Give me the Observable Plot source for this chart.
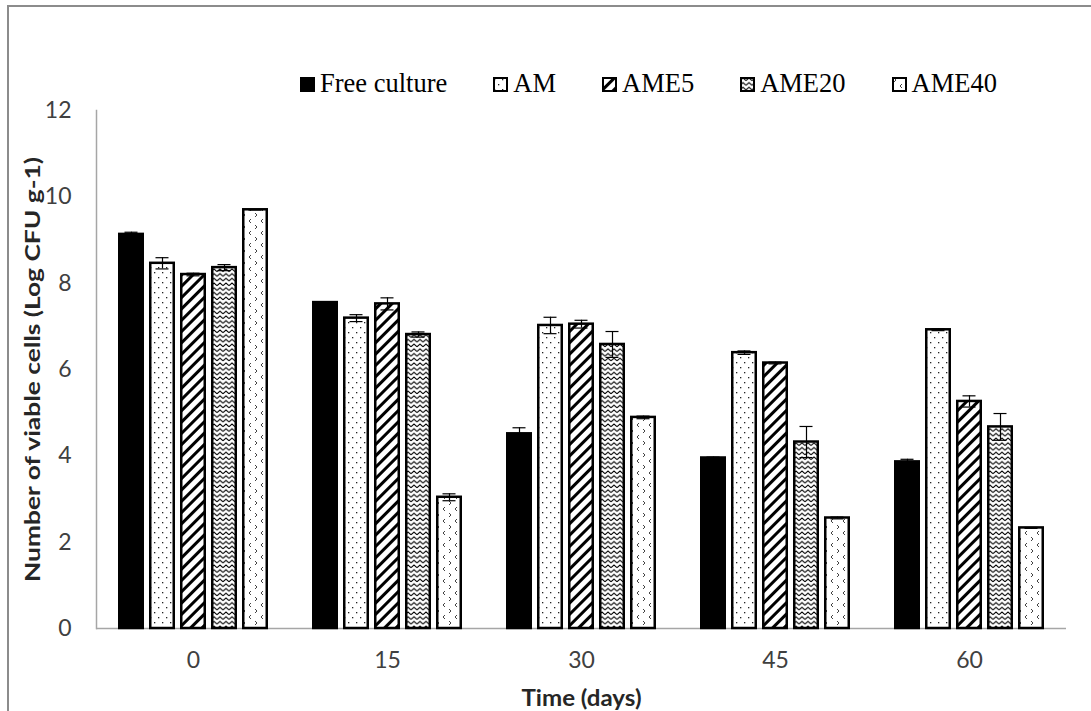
<!DOCTYPE html>
<html><head><meta charset="utf-8">
<script src="https://cdn.jsdelivr.net/npm/d3@7"></script>
<script src="https://cdn.jsdelivr.net/npm/@observablehq/plot@0.6"></script>
<style>
body{margin:0;background:#fff;width:1091px;height:711px;overflow:hidden;position:relative;font-family:Lato,sans-serif}
#frame{position:absolute;left:7px;top:5px;right:-10px;bottom:-10px;border-left:2px solid #8c8c8c;border-top:2px solid #8c8c8c;pointer-events:none}
#legend{position:absolute;left:300px;top:69px;display:flex;gap:46px;font-family:"Liberation Serif","Times New Roman",serif;font-size:26.5px;line-height:28px;color:#000;white-space:nowrap}
#legend .item svg{vertical-align:baseline;margin-right:5px}
#chart{position:absolute;left:0;top:80px}
#chart g[aria-label="y-axis label"] text{font-weight:bold;font-size:21px;fill:#262626}
#chart g[aria-label="fx-axis label"] text{font-weight:bold;font-size:22px;fill:#262626}
</style></head>
<body>
<svg width="0" height="0" style="position:absolute">
<defs>
<pattern id="p-am" patternUnits="userSpaceOnUse" width="8" height="10">
<rect width="8" height="10" fill="#fff"/>
<rect x="1" y="2" width="1.3" height="1.3" fill="#222"/>
<rect x="5" y="7" width="1.3" height="1.3" fill="#222"/>
</pattern>
<pattern id="p-ame5" patternUnits="userSpaceOnUse" width="8" height="8" patternTransform="rotate(45)">
<rect width="8" height="8" fill="#fff"/>
<rect x="0" y="0" width="3" height="8" fill="#000"/>
</pattern>
<pattern id="p-ame20" patternUnits="userSpaceOnUse" width="6" height="4.7">
<rect width="6" height="4.7" fill="#fff"/>
<polyline points="0,3.5 3,1 6,3.5" fill="none" stroke="#000" stroke-width="1"/>
</pattern>
<pattern id="p-ame40" patternUnits="userSpaceOnUse" width="12" height="12">
<rect width="12" height="12" fill="#fff"/>
<polyline points="2,1 4,3 2,5" fill="none" stroke="#444" stroke-width="1"/>
<polyline points="10,7 8,9 10,11" fill="none" stroke="#444" stroke-width="1"/>
</pattern>
</defs>
</svg>
<div id="frame"></div>
<div id="legend"></div>
<div id="chart"></div>
<script>
const times = ["0", "15", "30", "45", "60"];
const series = ["Free culture", "AM", "AME5", "AME20", "AME40"];
const freeCulture = [9.13, 7.55, 4.51, 3.95, 3.86];
const freeCultureErr = [0.05, 0.02, 0.14, 0.02, 0.06];
const am = [8.46, 7.19, 7.02, 6.39, 6.92];
const amErr = [0.13, 0.08, 0.19, 0.04, 0.02];
const ame5 = [8.2, 7.52, 7.05, 6.15, 5.26];
const ame5Err = [0.03, 0.14, 0.09, 0.02, 0.13];
const ame20 = [8.36, 6.81, 6.58, 4.32, 4.67];
const ame20Err = [0.07, 0.06, 0.3, 0.36, 0.31];
const ame40 = [9.7, 3.04, 4.89, 2.56, 2.33];
const ame40Err = [0.0, 0.08, 0.03, 0.02, 0.01];
const yTicks = [0, 2, 4, 6, 8, 10, 12];

const values = [freeCulture, am, ame5, ame20, ame40];
const errs = [freeCultureErr, amErr, ame5Err, ame20Err, ame40Err];
const fills = {"Free culture": "#000", "AM": "url(#p-am)", "AME5": "url(#p-ame5)", "AME20": "url(#p-ame20)", "AME40": "url(#p-ame40)"};

const rows = [];
times.forEach((t, i) => series.forEach((s, j) => rows.push({time: t, series: s, value: values[j][i], err: errs[j][i]})));

// legend
const legend = document.getElementById("legend");
series.forEach(s => {
  const span = document.createElement("span");
  span.className = "item";
  span.innerHTML = `<svg width="15" height="15"><rect x="1" y="1" width="13" height="13" fill="${fills[s]}" stroke="#000" stroke-width="2"/></svg>${s}`;
  legend.appendChild(span);
});

const common = {fx: "time", x: "series"};
const marks = [
  Plot.frame({anchor: "left", facetAnchor: "left", stroke: "#a6a6a6", strokeWidth: 1.5}),
  Plot.ruleY([0], {stroke: "#a6a6a6", strokeWidth: 1.5}),
  ...series.map(s => Plot.barY(rows.filter(d => d.series === s), {...common, y: "value", fill: fills[s], stroke: "#000", strokeWidth: 2.5, insetLeft: 1.25, insetRight: 1.25})),
  Plot.ruleX(rows, {...common, y1: d => d.value - d.err, y2: d => d.value + d.err, stroke: "#000", strokeWidth: 1.2}),
  Plot.tickY(rows, {...common, y: d => d.value + d.err, stroke: "#000", strokeWidth: 1.2, insetLeft: 6.5, insetRight: 6.5}),
  Plot.tickY(rows, {...common, y: d => d.value - d.err, stroke: "#000", strokeWidth: 1.2, insetLeft: 6.5, insetRight: 6.5}),
  Plot.axisY({ticks: yTicks, tickSize: 0, tickPadding: 25, label: "Number of viable cells (Log CFU g-1)", labelAnchor: "center", labelOffset: 71, labelArrow: "none"}),
  Plot.axisFx({anchor: "bottom", tickSize: 0, tickPadding: 23, label: "Time (days)", labelAnchor: "center", labelOffset: 77, labelArrow: "none"})
];

const chart = Plot.plot({
  width: 1091, height: 631,
  marginTop: 30, marginBottom: 83, marginLeft: 95, marginRight: 25,
  style: {fontFamily: "Lato, sans-serif", fontSize: "23px", color: "#404040", background: "transparent"},
  fx: {domain: times, padding: 0},
  x: {domain: series, paddingInner: 0.17, paddingOuter: 0.67, axis: null},
  y: {domain: [0, 12]},
  marks
});
document.getElementById("chart").appendChild(chart);
const yl = chart.querySelector('g[aria-label="y-axis label"] text');
if (yl) { yl.setAttribute("textLength", 425); yl.setAttribute("lengthAdjust", "spacingAndGlyphs"); }
const xl = chart.querySelector('g[aria-label="fx-axis label"] text');
if (xl) { xl.setAttribute("textLength", 120); xl.setAttribute("lengthAdjust", "spacingAndGlyphs"); }
</script>
</body></html>
